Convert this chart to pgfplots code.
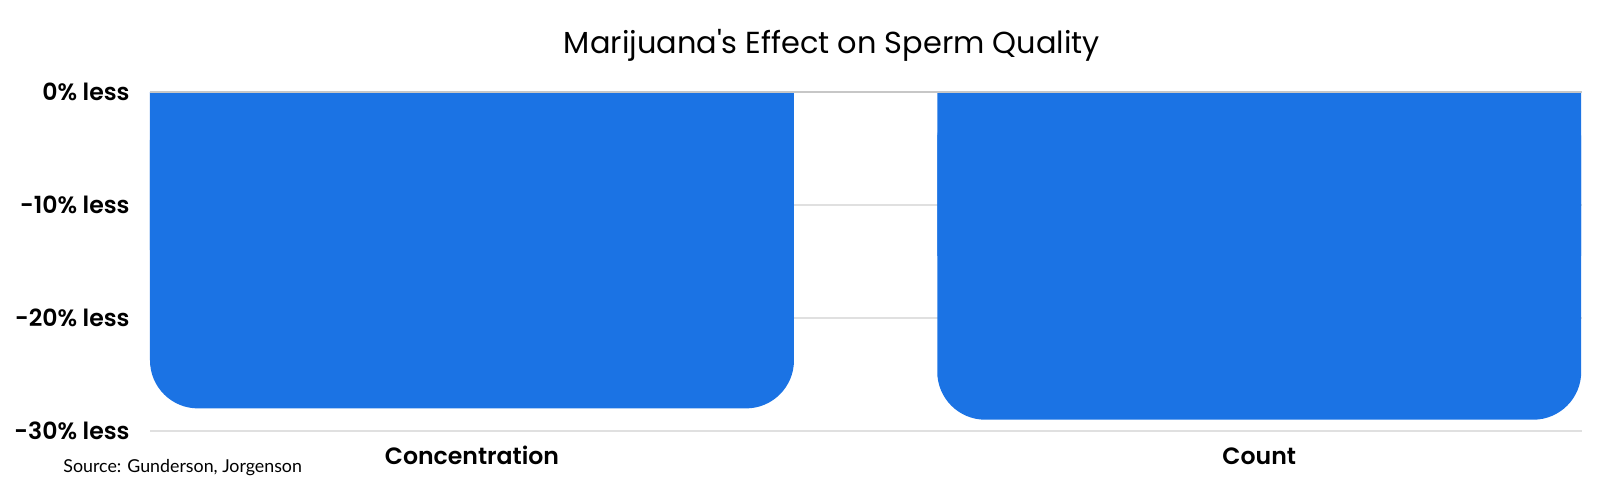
\documentclass[border=0pt]{standalone}
\usepackage{pgfplots}
\pgfplotsset{compat=1.18}
\usepackage{fontspec}
\setmainfont{Poppins}
\newfontfamily\medfont{Poppins}[UprightFont={* SemiBold}]
\newfontfamily\srcfont{Lato}
\definecolor{barblue}{RGB}{27,115,228}
\definecolor{gridgray}{RGB}{224,224,224}

\begin{document}
\begin{tikzpicture}
  \useasboundingbox (-75pt,-34.5pt) rectangle (725pt,215.5pt);
  \begin{axis}[
    name=ax, at={(0,0)}, anchor=south west,
    scale only axis,
    width=716pt, height=169.5pt,
    xmin=-0.409, xmax=1.41,
    ymin=-30, ymax=0,
    xtick={0,1}, xticklabels={Concentration, Count},
    ytick={-30,-20,-10,0},
    yticklabels={-30\% less, -20\% less, -10\% less, 0\% less},
    ymajorgrids,
    grid style={gridgray, line width=0.85pt},
    axis line style={draw=none},
    major tick length=0pt,
    ticklabel style={font=\medfont\fontsize{11.8}{14}\selectfont},
    yticklabel style={anchor=east, inner sep=0pt, xshift=-10pt},
    xticklabel style={anchor=base, inner sep=0pt, yshift=-16.5pt},
    ]
    % rounded bars
    \addplot[ybar, bar width=0.818, fill=barblue, draw=none, rounded corners=24pt]
      coordinates {(0,-28) (1,-29)};
    % square off the top corners
    \addplot[ybar, bar width=0.818, fill=barblue, draw=none, y filter/.expression={y/2}]
      coordinates {(0,-28) (1,-29)};
  \end{axis}
  \draw[color=black!22, line width=0.6pt] (ax.north west) -- (ax.north east);
  \node[anchor=base, inner sep=0pt, font=\fontsize{15.2}{18}\selectfont]
    at ([xshift=341pt, yshift=19.5pt]ax.north west) {Marijuana\textquotesingle s Effect on Sperm Quality};
  \node[anchor=base west, inner sep=0pt, font=\srcfont\fontsize{8.9}{10}\selectfont]
    at ([xshift=-43.5pt, yshift=-20.75pt]ax.south west) {Source: Gunderson, Jorgenson};
\end{tikzpicture}
\end{document}
